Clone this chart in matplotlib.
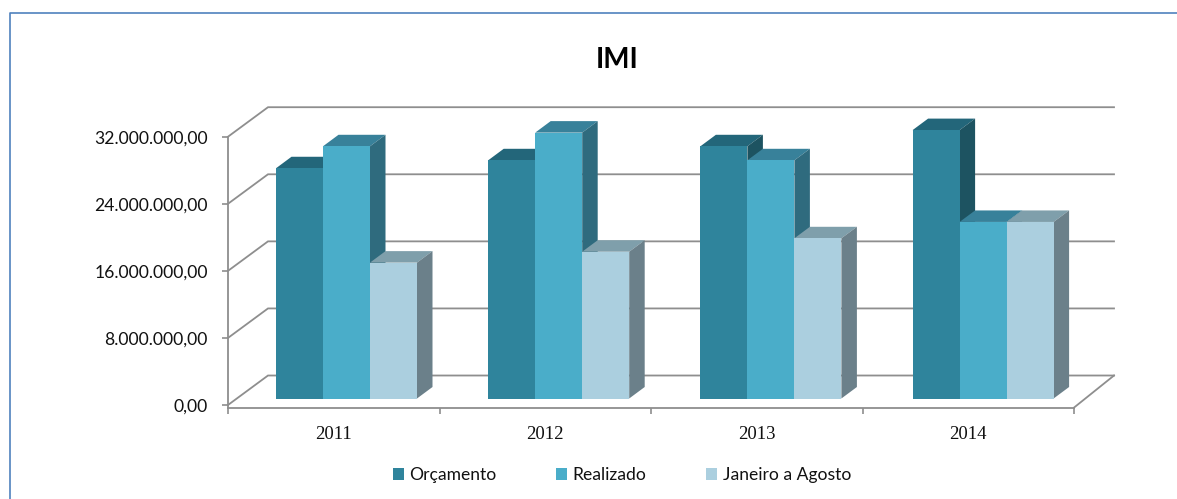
import matplotlib
matplotlib.use("Agg")
import matplotlib.pyplot as plt
from matplotlib.lines import Line2D
from matplotlib.patches import Polygon

years = ["2011", "2012", "2013", "2014"]
orcamento = [27.45e6, 28.4e6, 30.07e6, 32.0e6]
realizado = [30.07e6, 31.7e6, 28.4e6, 21.05e6]
jan_ago = [16.2e6, 17.5e6, 19.1e6, 21.05e6]
y_ticks = [0, 8e6, 16e6, 24e6, 32e6]
y_labels = ["0,00", "8.000.000,00", "16.000.000,00", "24.000.000,00", "32.000.000,00"]
series = [
    ("Orçamento", orcamento, "#2F849C", "#23667A", "#1D5361"),
    ("Realizado", realizado, "#4AADC9", "#38819A", "#2F6B7E"),
    ("Janeiro a Agosto", jan_ago, "#ABCFDF", "#7F9FAB", "#6B808A"),
]

W, H = 1177, 499
GRAY = "#8E8E8E"
fig = plt.figure(figsize=(W / 100, H / 100), dpi=100, facecolor="white")


def box(left, right, top, bottom):
    return [left / W, 1 - bottom / H, (right - left) / W, (bottom - top) / H]


# Frame of the chart area
fig.add_artist(Line2D([9.5 / W, 9.5 / W, 1], [0, 1 - 12.5 / H, 1 - 12.5 / H],
                      color="#4F81BD", lw=1.2))

# Front plane of the chart: axes, ticks and labels
scale_px = 67.1 / 8e6
ax = fig.add_axes(box(228, 1074, 136.7, 407.6))
ax.set_xlim(-0.5, 3.5)
ax.set_ylim(-2.6 / scale_px, 32e6)
ax.patch.set_alpha(0)
for s in ("top", "right"):
    ax.spines[s].set_visible(False)
for s in ("left", "bottom"):
    ax.spines[s].set_color(GRAY)
    ax.spines[s].set_linewidth(1.3)
ax.set_yticks(y_ticks, y_labels, fontfamily="Lato", fontsize=12.6, color="#111111")
ax.tick_params(axis="y", length=4.5, width=1.2, color=GRAY, pad=10)
ax.set_xticks([-0.5, 0.5, 1.5, 2.5, 3.5], [""] * 5)
ax.tick_params(axis="x", which="major", length=4, width=1.2, color=GRAY)
ax.set_xticks(range(4), years, minor=True, fontfamily="Liberation Serif", fontsize=13.5, color="#111111")
ax.tick_params(axis="x", which="minor", length=0, pad=13)

# Back wall and floor drawn obliquely from the front plane
wall_dx = 40 / 211.5
wall_dy = 29.5 / scale_px
for t in y_ticks:
    ax.plot([-0.5, -0.5 + wall_dx, 3.5 + wall_dx], [t, t + wall_dy, t + wall_dy],
            color=GRAY, lw=1.3, clip_on=False, solid_joinstyle="miter")
ax.plot([3.5, 3.5 + wall_dx], [-2.6 / scale_px, wall_dy], color=GRAY, lw=1.3, clip_on=False)

# Bars plane, set slightly behind the front plane
bx = fig.add_axes(box(240.4, 1089.2, 398.5 - 32e6 * scale_px, 398.5))
bx.set_xlim(-0.5, 3.5)
bx.set_ylim(0, 32e6)
bx.axis("off")
bx.patch.set_alpha(0)

bar_w = 47 / 212.2
depth_x = 15.5 / 212.2
depth_y = 11.5 / scale_px
handles = []
for i in range(len(years)):
    for j, (name, values, front, top, side) in enumerate(series):
        x0 = i + (j - 1.5) * bar_w
        v = values[i]
        bx.add_patch(Polygon([(x0, v), (x0 + depth_x, v + depth_y),
                              (x0 + bar_w + depth_x, v + depth_y), (x0 + bar_w, v)],
                             closed=True, fc=top, ec="none", clip_on=False, zorder=2 + i * 3 + j * 0.1))
        bx.add_patch(Polygon([(x0 + bar_w, 0), (x0 + bar_w + depth_x, depth_y),
                              (x0 + bar_w + depth_x, v + depth_y), (x0 + bar_w, v)],
                             closed=True, fc=side, ec="none", clip_on=False, zorder=2 + i * 3 + j * 0.1))
        b = bx.bar(x0, v, width=bar_w, align="edge", color=front, label=name, clip_on=False,
                   zorder=2.05 + i * 3 + j * 0.1)
        if i == 0:
            handles.append(b)

fig.text(617 / W, 1 - 60 / H, "IMI", ha="center", va="center", fontfamily="Lato",
         fontweight="bold", fontsize=20, color="#000000")

fig.legend(handles=handles, labels=[s[0] for s in series], ncol=3, frameon=False,
           loc="center", bbox_to_anchor=(622 / W, 1 - 475 / H),
           prop={"family": "Lato", "size": 12.6}, handlelength=0.63, handleheight=0.63,
           handletextpad=0.32, columnspacing=3.4, labelcolor="#111111")

fig.savefig("out.png", dpi=100)
